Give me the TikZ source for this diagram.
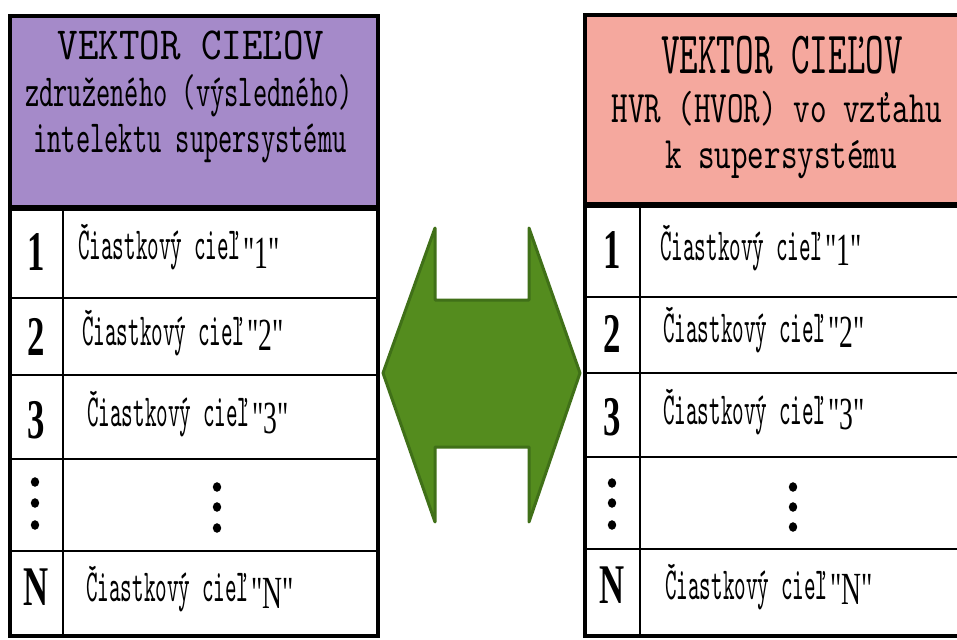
\documentclass[tikz,border=0pt]{standalone}
\usepackage{fontspec}
\usepackage{xcolor}
\usepackage{tikz}
\usetikzlibrary{positioning}

\newfontfamily\titlefont[FakeStretch=0.85]{lmmono10-regular.otf}
\newfontfamily\headfont[FakeStretch=0.59]{lmmono10-regular.otf}
\newfontfamily\wideheadfont[FakeStretch=0.70]{lmmono10-regular.otf}
\newfontfamily\cellfont[FakeStretch=0.48]{lmmono10-regular.otf}
\newfontfamily\quotefont[FakeStretch=0.6]{Liberation Serif}
\newfontfamily\numfont[FakeStretch=0.62]{Liberation Serif}

\definecolor{headpurple}{RGB}{165,138,201}
\definecolor{headpink}{RGB}{245,168,158}
\definecolor{arrowgreen}{RGB}{84,140,30}
\definecolor{arrowedge}{RGB}{64,112,24}

% quoted index of a sub-goal, set a little below the line
\newcommand{\qnum}[2][-5pt]{\hspace{3pt}\raisebox{#1}{\quotefont\fontsize{46}{46}\selectfont"#2"}}

\begin{document}
\begin{tikzpicture}[
  x=1pt, y=-1pt,
  frame/.style={draw=black,line width=4.5pt},
  headsep/.style={line width=6.5pt},
  rowsep/.style={line width=1.8pt},
  title/.style={anchor=base,inner sep=0pt,font=\titlefont\fontsize{46}{46}\selectfont},
  subtitle/.style={anchor=base,inner sep=0pt,font=\headfont\fontsize{46}{46}\selectfont},
  rtitle/.style={anchor=base,inner sep=0pt,font=\headfont\fontsize{60}{60}\selectfont},
  rsubtitle/.style={anchor=base,inner sep=0pt,font=\wideheadfont\fontsize{45}{45}\selectfont},
  index/.style={anchor=base,inner sep=0pt,font=\numfont\bfseries\fontsize{56}{56}\selectfont},
  goal/.style={anchor=base west,inner sep=0pt,font=\cellfont\fontsize{46}{46}\selectfont},
  dot/.style={fill=black},
  bigarrow/.style={fill=arrowgreen,draw=arrowedge,line width=3pt,line join=round}
]
  \fill[white] (0,0) rectangle (957,639);
  \useasboundingbox (0,0) rectangle (957,639);

  % left table
  \fill[headpurple] (10,16) rectangle (378,208);
  \draw[frame] (10,16) rectangle (378,636);
  \draw[headsep] (10,208) -- (378,208);
  \draw[rowsep] (10,298) -- (378,298) (10,375) -- (378,375) (10,459) -- (378,459) (10,551) -- (378,551);
  \draw[rowsep] (63,208) -- (63,636);

  \node[title] (ltitle) at (191,60) {VEKTOR CIEĽOV};
  \node[subtitle] (lsub1) at (189,107) {združeného (výsledného)};
  \node[subtitle] (lsub2) at (190,153) {intelektu supersystému};

  \node[index] (l1) at (36,270) {1};
  \node[index] (l2) at (36,355) {2};
  \node[index] (l3) at (36,438) {3};
  \node[index] (lN) at (36,605) {N};
  \node[goal] (lg1) at (78,259) {Čiastkový cieľ\qnum[-9pt]{1}};
  \node[goal] (lg2) at (82,345) {Čiastkový cieľ\qnum{2}};
  \node[goal] (lg3) at (87,426) {Čiastkový cieľ\qnum[-7pt]{3}};
  \node[goal] (lgN) at (86,601) {Čiastkový cieľ\qnum[-7pt]{N}};
  \fill[dot] (35,482) circle[x radius=4.2pt,y radius=4.8pt] (35,503) circle[x radius=4.2pt,y radius=4.8pt] (35,525) circle[x radius=4.2pt,y radius=4.8pt];
  \fill[dot] (217,487) circle[x radius=4.2pt,y radius=4.8pt] (217,507) circle[x radius=4.2pt,y radius=4.8pt] (217,528) circle[x radius=4.2pt,y radius=4.8pt];

  % right table
  \fill[headpink] (585,15) rectangle (980,205);
  \draw[frame] (585,15) rectangle (980,636);
  \draw[headsep] (585,205) -- (980,205);
  \draw[rowsep] (585,297) -- (980,297) (585,373) -- (980,373) (585,457) -- (980,457) (585,549) -- (980,549);
  \draw[rowsep] (640,205) -- (640,636);

  \node[rtitle] (rtitle) at (782,74) {VEKTOR CIEĽOV};
  \node[rsubtitle] (rsub1) at (777,123) {HVR (HVOR) vo vzťahu};
  \node[rsubtitle] (rsub2) at (781,168) {k supersystému};

  \node[index] (r1) at (612,268) {1};
  \node[index] (r2) at (612,352) {2};
  \node[index] (r3) at (612,435) {3};
  \node[index] (rN) at (612,603) {N};
  \node[goal] (rg1) at (660,260) {Čiastkový cieľ\qnum{1}};
  \node[goal] (rg2) at (663,342) {Čiastkový cieľ\qnum{2}};
  \node[goal] (rg3) at (663,424) {Čiastkový cieľ\qnum{3}};
  \node[goal] (rgN) at (665,599) {Čiastkový cieľ\qnum{N}};
  \fill[dot] (612,483) circle[x radius=4.2pt,y radius=4.8pt] (612,503) circle[x radius=4.2pt,y radius=4.8pt] (612,525) circle[x radius=4.2pt,y radius=4.8pt];
  \fill[dot] (793,487) circle[x radius=4.2pt,y radius=4.8pt] (793,507) circle[x radius=4.2pt,y radius=4.8pt] (793,527) circle[x radius=4.2pt,y radius=4.8pt];

  % double arrow between the tables
  \draw[bigarrow] (383,373) -- (435,228) -- (435,300) -- (529,300) -- (529,228) -- (580,373)
    -- (529,522) -- (529,447) -- (435,447) -- (435,522) -- cycle;
\end{tikzpicture}
\end{document}
